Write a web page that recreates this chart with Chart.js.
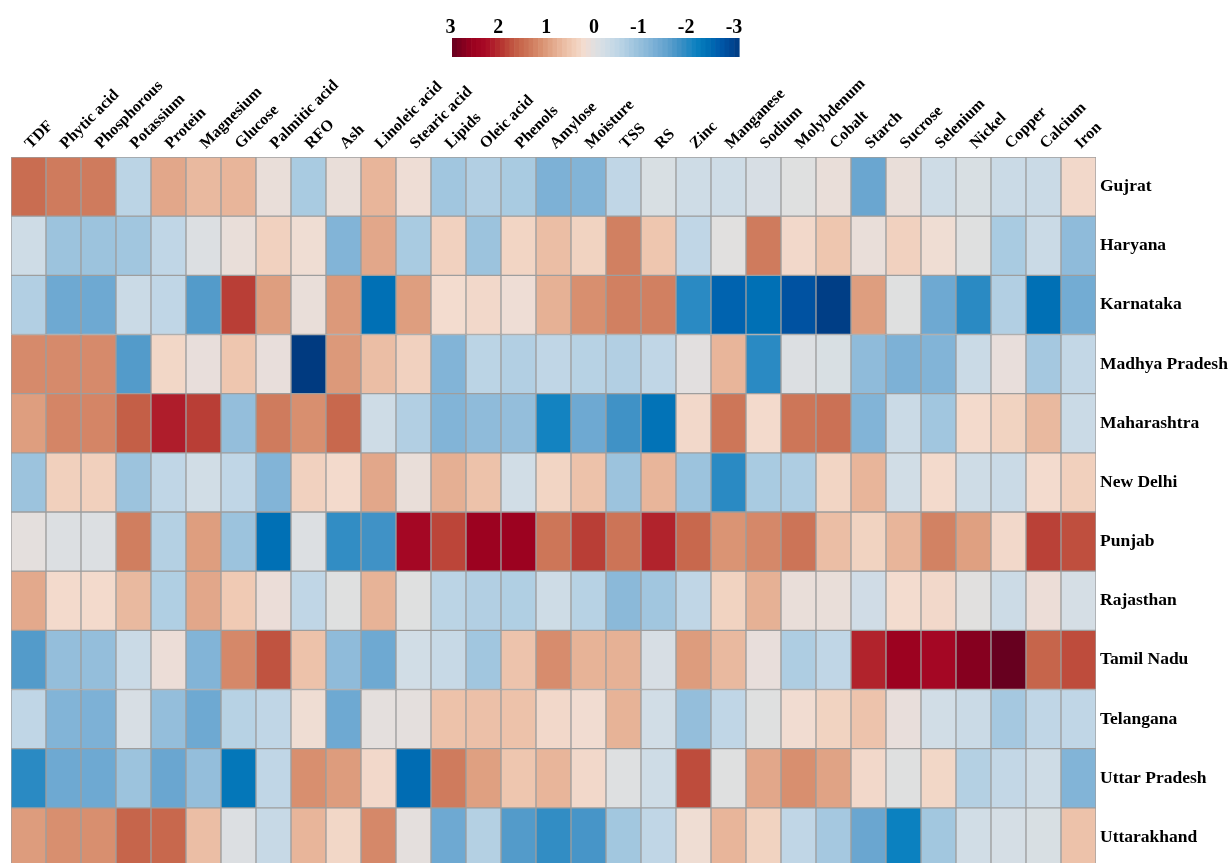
<!DOCTYPE html>
<html>
<head>
<meta charset="utf-8">
<title>Nutrient heatmap by state</title>
<script src="https://cdn.jsdelivr.net/npm/chart.js@4/dist/chart.umd.min.js"></script>
<style>
  html, body { margin: 0; padding: 0; background: #ffffff; overflow: hidden; }
  #heat { display: block; }
</style>
</head>
<body>
<canvas id="heat" width="1229" height="867"></canvas>
<script>
// Column labels (nutrients) and row labels (states)
const nutrients = ['TDF', 'Phytic acid', 'Phosphorous', 'Potassium', 'Protein', 'Magnesium', 'Glucose',
  'Palmitic acid', 'RFO', 'Ash', 'Linoleic acid', 'Stearic acid', 'Lipids', 'Oleic acid', 'Phenols',
  'Amylose', 'Moisture', 'TSS', 'RS', 'Zinc', 'Manganese', 'Sodium', 'Molybdenum', 'Cobalt', 'Starch',
  'Sucrose', 'Selenium', 'Nickel', 'Copper', 'Calcium', 'Iron'];

const states = ['Gujrat', 'Haryana', 'Karnataka', 'Madhya Pradesh', 'Maharashtra', 'New Delhi',
  'Punjab', 'Rajasthan', 'Tamil Nadu', 'Telangana', 'Uttar Pradesh', 'Uttarakhand'];

// Scaled (z-score) values, one array per state, in nutrient order
const gujrat = [1.5, 1.35, 1.35, -0.5, 0.9, 0.7, 0.75, 0.12, -0.7, 0.12, 0.75, 0.18, -0.8, -0.6, -0.7,
  -1.2, -1.15, -0.45, -0.1, -0.25, -0.25, -0.12, 0, 0.12, -1.4, 0.12, -0.25, -0.1, -0.3, -0.3, 0.3];
const haryana = [-0.25, -0.85, -0.85, -0.8, -0.45, -0.05, 0.12, 0.4, 0.2, -1.15, 0.9, -0.7, 0.4, -0.85, 0.35,
  0.65, 0.38, 1.3, 0.55, -0.45, 0.02, 1.35, 0.3, 0.55, 0.12, 0.4, 0.2, 0, -0.7, -0.3, -1.0];
const karnataka = [-0.6, -1.35, -1.35, -0.3, -0.45, -1.6, 1.9, 1.0, 0.12, 1.05, -2.35, 1.0, 0.25, 0.3, 0.18,
  0.8, 1.15, 1.3, 1.3, -1.9, -2.5, -2.35, -2.7, -2.95, 1.0, 0, -1.35, -1.9, -0.6, -2.35, -1.3];
const madhyaPradesh = [1.2, 1.2, 1.2, -1.6, 0.32, 0.1, 0.55, 0.1, -3.0, 1.05, 0.65, 0.4, -1.15, -0.5, -0.6,
  -0.45, -0.55, -0.6, -0.45, 0.03, 0.75, -1.9, -0.05, -0.1, -1.0, -1.2, -1.15, -0.3, 0.1, -0.75, -0.4];
const maharashtra = [1.0, 1.25, 1.25, 1.65, 2.15, 1.9, -0.95, 1.35, 1.15, 1.55, -0.25, -0.6, -1.15, -1.0, -0.95,
  -2.05, -1.35, -1.75, -2.3, 0.3, 1.4, 0.28, 1.4, 1.45, -1.15, -0.3, -0.8, 0.28, 0.38, 0.7, -0.3];
const newDelhi = [-0.85, 0.42, 0.42, -0.85, -0.45, -0.2, -0.45, -1.15, 0.4, 0.28, 0.9, 0.12, 0.82, 0.6, -0.2,
  0.35, 0.6, -0.85, 0.75, -0.85, -1.9, -0.7, -0.65, 0.35, 0.75, -0.2, 0.28, -0.25, -0.3, 0.26, 0.42];
const punjab = [0.06, -0.05, -0.05, 1.32, -0.58, 1.0, -0.85, -2.35, -0.05, -1.85, -1.75, 2.4, 1.85, 2.55, 2.55,
  1.4, 1.9, 1.42, 2.1, 1.55, 1.1, 1.22, 1.42, 0.65, 0.38, 0.75, 1.28, 0.98, 0.3, 1.88, 1.78];
const rajasthan = [0.88, 0.28, 0.28, 0.7, -0.62, 0.9, 0.5, 0.14, -0.45, 0, 0.78, 0, -0.5, -0.6, -0.62,
  -0.25, -0.55, -1.05, -0.8, -0.45, 0.38, 0.8, 0.12, 0.12, -0.22, 0.25, 0.3, 0.02, -0.28, 0.15, -0.15];
const tamilNadu = [-1.6, -0.95, -0.95, -0.3, 0.15, -1.15, 1.22, 1.75, 0.6, -1.0, -1.35, -0.2, -0.35, -0.8, 0.58,
  1.18, 0.78, 0.8, -0.12, 1.02, 0.7, 0.1, -0.65, -0.45, 2.1, 2.55, 2.4, 2.75, 3.0, 1.58, 1.8];
const telangana = [-0.45, -1.15, -1.2, -0.12, -0.95, -1.35, -0.55, -0.45, 0.2, -1.35, 0.06, 0.06, 0.6, 0.62, 0.6,
  0.3, 0.22, 0.78, -0.2, -0.95, -0.45, 0, 0.22, 0.38, 0.58, 0.1, -0.2, -0.3, -0.75, -0.45, -0.45];
const uttarPradesh = [-1.9, -1.35, -1.35, -0.85, -1.4, -0.95, -2.25, -0.45, 1.15, 1.02, 0.3, -2.4, 1.35, 0.98, 0.55,
  0.75, 0.3, -0.02, -0.25, 1.8, 0, 0.9, 1.15, 0.95, 0.3, 0, 0.32, -0.58, -0.4, -0.25, -1.15];
const uttarakhand = [1.02, 1.15, 1.15, 1.58, 1.55, 0.65, -0.05, -0.35, 0.75, 0.32, 1.22, 0.06, -1.35, -0.58, -1.6,
  -1.85, -1.7, -0.78, -0.45, 0.2, 0.75, 0.38, -0.45, -0.75, -1.4, -2.1, -0.78, -0.2, -0.15, -0.1, 0.6];

const rows = [gujrat, haryana, karnataka, madhyaPradesh, maharashtra, newDelhi,
  punjab, rajasthan, tamilNadu, telangana, uttarPradesh, uttarakhand];

// Colour bar tick values
const legendTicks = [3, 2, 1, 0, -1, -2, -3];

// Diverging red-blue palette (value -> colour stop)
const palette = [
  [3.0, '#67001f'], [2.6, '#99001f'], [2.3, '#a90a26'], [2.0, '#b5302f'], [1.7, '#c25a43'],
  [1.4, '#cd7658'], [1.1, '#da9474'], [0.8, '#e6b195'], [0.5, '#f0cab4'], [0.25, '#f3dccf'],
  [0.1, '#e8dedb'], [0.0, '#dfe0e0'], [-0.2, '#d1dde6'], [-0.45, '#c0d6e6'], [-0.7, '#a9cbe1'],
  [-0.95, '#94bedb'], [-1.2, '#7db1d6'], [-1.5, '#60a1cd'], [-1.8, '#3a8fc5'], [-2.1, '#0b81c0'],
  [-2.35, '#0070b5'], [-2.6, '#005aab'], [-2.8, '#004a98'], [-3.0, '#003a80']
];

function hexToRgb(h) {
  const n = parseInt(h.slice(1), 16);
  return [(n >> 16) & 255, (n >> 8) & 255, n & 255];
}

function colorFor(v) {
  if (v >= palette[0][0]) return palette[0][1];
  const last = palette[palette.length - 1];
  if (v <= last[0]) return last[1];
  for (let i = 0; i < palette.length - 1; i++) {
    const [v0, c0] = palette[i];
    const [v1, c1] = palette[i + 1];
    if (v <= v0 && v >= v1) {
      const t = (v0 - v) / (v0 - v1);
      const a = hexToRgb(c0), b = hexToRgb(c1);
      const m = a.map((x, k) => Math.round(x + (b[k] - x) * t));
      return `rgb(${m[0]},${m[1]},${m[2]})`;
    }
  }
  return last[1];
}

const serif = '"Liberation Serif", "Times New Roman", Times, serif';

// One floating-bar dataset per state: each bar spans its row band [r, r+1]
const datasets = states.map((name, r) => ({
  label: name,
  data: rows[r].map(() => [r, r + 1]),
  values: rows[r],
  backgroundColor: rows[r].map(colorFor),
  borderColor: '#9e9e9e',
  borderWidth: 1,
  borderSkipped: false,
  barPercentage: 1,
  categoryPercentage: 1,
  grouped: false
}));

// Colour bar drawn above the grid
const colorBar = {
  id: 'colorBar',
  afterDraw(chart) {
    const ctx = chart.ctx;
    const x0 = 452, x1 = 739, y0 = 38, y1 = 57;
    const steps = 60;
    const w = (x1 - x0) / steps;
    ctx.save();
    for (let i = 0; i < steps; i++) {
      const v = 3 - (i + 0.5) * 6 / steps;
      ctx.fillStyle = colorFor(v);
      ctx.fillRect(x0 + i * w, y0, w + 0.6, y1 - y0);
    }
    ctx.fillStyle = '#000';
    ctx.font = `bold 20px ${serif}`;
    ctx.textAlign = 'center';
    ctx.textBaseline = 'alphabetic';
    legendTicks.forEach(v => {
      const x = x0 + (3 - v) / 6 * (x1 - x0) - (v < 0 ? 5 : 1.5);
      ctx.fillText(String(v), x, 33);
    });
    ctx.restore();
  }
};

new Chart(document.getElementById('heat'), {
  type: 'bar',
  data: { labels: nutrients, datasets },
  plugins: [colorBar],
  options: {
    responsive: false,
    maintainAspectRatio: false,
    devicePixelRatio: 1,
    animation: false,
    layout: { padding: { left: 11, right: 0, top: 0, bottom: 0 } },
    plugins: {
      legend: { display: false },
      tooltip: {
        callbacks: {
          label: (c) => `${c.dataset.label}: ${c.dataset.values[c.dataIndex]}`
        }
      }
    },
    scales: {
      x: {
        type: 'category',
        position: 'top',
        offset: true,
        grid: { display: false, drawTicks: false },
        border: { display: false },
        ticks: {
          autoSkip: false,
          minRotation: 45,
          maxRotation: 45,
          padding: 4,
          labelOffset: 13,
          color: '#000',
          font: { family: serif, size: 16, weight: 'bold' }
        },
        afterFit: (s) => { s.height = 157; s.paddingLeft = 0; s.paddingRight = 0; }
      },
      y: {
        type: 'linear',
        position: 'right',
        min: 0,
        max: states.length,
        reverse: true,
        grid: { display: false, drawTicks: false },
        border: { display: false },
        afterBuildTicks: (s) => { s.ticks = states.map((_, i) => ({ value: i + 0.5 })); },
        ticks: {
          padding: 4,
          color: '#000',
          font: { family: serif, size: 17.5, weight: 'bold' },
          callback: (v, i) => states[i]
        },
        afterFit: (s) => { s.width = 133; s.paddingTop = 0; s.paddingBottom = 0; }
      }
    }
  }
});
</script>
</body>
</html>
